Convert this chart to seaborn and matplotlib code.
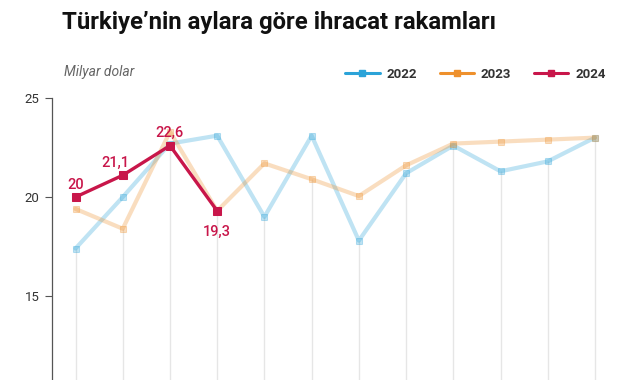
import numpy as np
import pandas as pd
import matplotlib
matplotlib.use("Agg")
import matplotlib.pyplot as plt
from matplotlib.lines import Line2D
from matplotlib.legend_handler import HandlerLine2D
import seaborn as sns

# Aylık ihracat (milyar dolar)
aylar = list(range(12))
ihracat_2022 = [17.4, 20.0, 22.7, 23.1, 19.0, 23.1, 17.8, 21.2, 22.6, 21.3, 21.8, 23.0]
ihracat_2023 = [19.4, 18.4, 23.3, 19.3, 21.7, 20.9, 20.05, 21.6, 22.7, 22.8, 22.9, 23.0]
ihracat_2024 = [20.0, 21.1, 22.6, 19.3]
etiketler_2024 = ["20", "21,1", "22,6", "19,3"]
yillar = ["2022", "2023", "2024"]

renk = {"2022": "#2ba3d8", "2023": "#ee902c", "2024": "#c8164a"}

df = pd.concat([
    pd.DataFrame({"ay": aylar, "deger": ihracat_2022, "yil": "2022"}),
    pd.DataFrame({"ay": aylar, "deger": ihracat_2023, "yil": "2023"}),
    pd.DataFrame({"ay": aylar[:4], "deger": ihracat_2024, "yil": "2024"}),
], ignore_index=True)

sns.set_style("white")
plt.rcParams['font.family'] = ['Roboto', 'DejaVu Sans']

fig = plt.figure(figsize=(6.41, 3.80), dpi=100)
ax = fig.add_axes([0.081, 0.0, 0.884, 0.742])

alt = 10.76
# dikey kılavuz çizgileri: her ayın en düşük değerinden aşağı
en_dusuk = df.groupby("ay")["deger"].min()
ax.vlines(en_dusuk.index, alt, en_dusuk.values, color="#e6e6e6", lw=1.0, zorder=1)

for yil, z in [("2022", 2), ("2023", 3)]:
    sns.lineplot(data=df[df.yil == yil], x="ay", y="deger", color=renk[yil],
                 marker="s", markersize=5, lw=3, alpha=0.3,
                 markeredgecolor=renk[yil], ax=ax, zorder=z)
sns.lineplot(data=df[df.yil == "2024"], x="ay", y="deger", color=renk["2024"],
             marker="s", markersize=6, lw=2.4, markeredgecolor=renk["2024"],
             ax=ax, zorder=5)

# 2024 veri etiketleri
ofset = [(0, 9), (-5, 9), (0, 9), (0, -15)]
for x, y, t, (dx, dy) in zip(aylar[:4], ihracat_2024, etiketler_2024, ofset):
    ax.annotate(t, (x, y), xytext=(dx, dy), textcoords="offset points",
                ha="center", va="center", color=renk["2024"], fontsize=10.5,
                fontweight="medium", zorder=6)

ax.set_xlim(-0.5, 11.5)
ax.set_ylim(alt, 25)
ax.set_yticks([15, 20, 25])
ax.set_xticks([])
ax.set_xlabel("")
ax.set_ylabel("")
ax.tick_params(axis="y", length=5, width=0.8, color="#555555", labelsize=9.5,
               labelcolor="#333333", pad=4, left=True)
for s in ["top", "right", "bottom"]:
    ax.spines[s].set_visible(False)
ax.spines["left"].set_color("#555555")
ax.spines["left"].set_linewidth(0.9)


class SonaIsaret(HandlerLine2D):
    def get_xdata(self, legend, xdescent, ydescent, width, height, fontsize):
        xdata = np.array([-xdescent, -xdescent + width])
        return xdata, np.array([-xdescent + width])


tutamaklar = [Line2D([0], [0], color=renk[y], lw=2.2, marker="s", markersize=5)
              for y in yillar]
leg = fig.legend(tutamaklar, yillar, loc="center right", bbox_to_anchor=(0.963, 0.805),
                 ncol=3, frameon=False, handlelength=2.6, handletextpad=0.5,
                 columnspacing=1.75, prop={"weight": "bold", "size": 9.5},
                 handler_map={Line2D: SonaIsaret()})
for t in leg.get_texts():
    t.set_color("#333333")

fig.text(0.1, 0.81, "Milyar dolar", fontsize=10, style="italic",
         color="#666666", va="center")
fig.text(0.097, 0.94, "Türkiye’nin aylara göre ihracat rakamları", fontsize=17.2,
         fontweight="bold", color="#111111", va="center")

fig.savefig("out.png", dpi=100)
